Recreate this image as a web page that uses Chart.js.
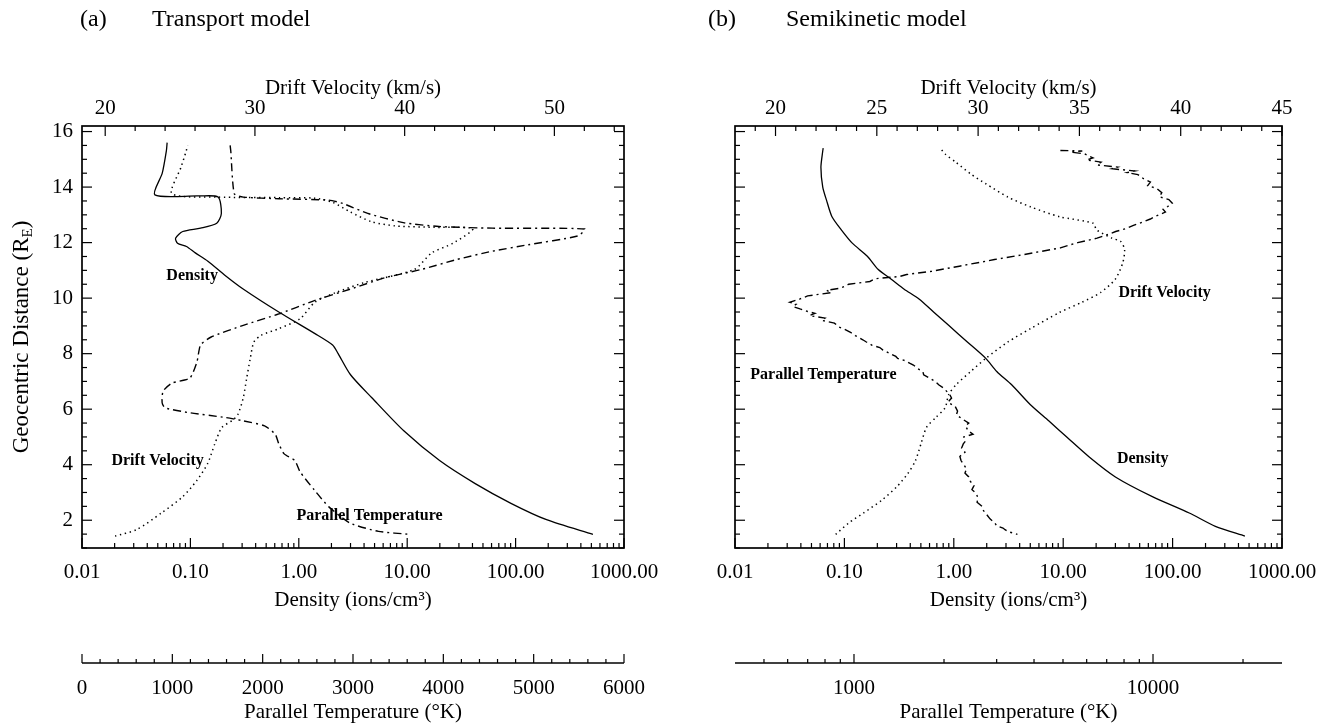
<!DOCTYPE html>
<html><head><meta charset="utf-8">
<script src="https://cdn.jsdelivr.net/npm/chart.js@4.4.1/dist/chart.umd.min.js"></script>
<style>
html,body{margin:0;padding:0;background:#fff;}
#wrap{position:relative;width:1332px;height:725px;overflow:hidden;background:#fff;}
canvas{position:absolute;top:0;}
.ttl{position:absolute;font-family:"Liberation Serif","Times New Roman",serif;font-size:24px;color:#000;white-space:nowrap;line-height:1;}
</style></head><body>
<div id="wrap">
<canvas id="ca" width="666" height="725" style="left:0px"></canvas>
<canvas id="cb" width="666" height="725" style="left:666px"></canvas>
<div class="ttl" style="left:80px;top:6px">(a)</div>
<div class="ttl" style="left:152px;top:6px">Transport model</div>
<div class="ttl" style="left:708px;top:6px">(b)</div>
<div class="ttl" style="left:786px;top:6px">Semikinetic model</div>
</div>
<script>
const FONT = '"Liberation Serif","Times New Roman",serif';

// ---------- tick labels ----------
const yTickLabels = [2, 4, 6, 8, 10, 12, 14, 16];
const densTickLabels = [0.01, 0.1, 1, 10, 100, 1000];
const aVelTickLabels = [20, 30, 40, 50];
const bVelTickLabels = [20, 25, 30, 35, 40, 45];
const aTempTickLabels = [0, 1000, 2000, 3000, 4000, 5000, 6000];
const bTempTickLabels = [1000, 10000];

// ---------- panel (a) Transport model ----------
const aDensDist = [15.6, 15.3, 14.5, 13.72, 13.68, 13.64, 13.05, 12.7, 12.52, 12.4, 12.16, 11.98, 11.86, 11.63, 11.33, 10.8, 10.32, 9.49, 8.72, 8.31, 8.01, 7.24, 6.41, 5.22, 4.15, 3.32, 2.61, 2.02, 1.49];
const aDensVal  = [0.061, 0.060, 0.055, 0.047, 0.12, 0.18, 0.193, 0.175, 0.124, 0.085, 0.073, 0.076, 0.092, 0.111, 0.145, 0.212, 0.309, 0.659, 1.41, 2.05, 2.30, 3.0, 4.72, 9.3, 19.9, 42.4, 90.6, 193, 517];

const aVelDist = [1.43, 1.66, 2.26, 2.85, 3.44, 4.04, 4.75, 5.34, 5.6, 5.81, 6.41, 7.12, 7.83, 8.42, 8.66, 8.9, 9.26, 9.85, 10.2, 10.56, 11.03, 11.63, 11.98, 12.5, 12.55, 12.6, 12.75, 13.11, 13.45, 13.6, 13.62, 13.64, 13.76, 14.71, 15.3, 15.5];
const aVelVal  = [20.66, 22.09, 23.75, 25.18, 26.13, 26.84, 27.32, 27.79, 28.5, 28.86, 29.22, 29.45, 29.69, 29.93, 30.41, 31.59, 33.02, 34.0, 35.4, 37.3, 40.63, 41.81, 43.24, 44.55, 42.0, 39.4, 37.8, 36.35, 35.2, 34.0, 31.6, 27.5, 24.46, 25.06, 25.41, 25.5];

const aTempDist = [15.5, 15.3, 13.76, 13.64, 13.58, 13.53, 13.41, 13.05, 12.72, 12.58, 12.52, 12.49, 12.24, 11.92, 11.69, 11.39, 11.03, 10.74, 10.32, 9.91, 9.43, 9.02, 8.60, 8.31, 7.71, 7.12, 6.94, 6.65, 6.23, 6.05, 5.87, 5.70, 5.58, 5.40, 5.10, 4.75, 4.39, 4.15, 3.74, 3.09, 2.49, 1.90, 1.60, 1.49];
const aTempVal  = [1640, 1647, 1686, 1785, 2179, 2730, 2888, 3163, 3557, 3951, 4542, 5566, 5488, 4936, 4542, 4148, 3754, 3360, 2966, 2572, 2179, 1785, 1430, 1312, 1273, 1194, 997, 898, 887, 918, 1194, 1588, 1785, 2021, 2139, 2179, 2238, 2356, 2415, 2572, 2730, 2966, 3281, 3636];

// ---------- panel (b) Semikinetic model ----------
const bDensDist = [15.4, 15.3, 14.71, 14.0, 13.53, 12.93, 12.46, 11.98, 11.51, 11.03, 10.68, 10.32, 9.97, 9.49, 9.02, 8.42, 7.83, 7.36, 6.88, 6.17, 5.58, 4.98, 4.27, 3.56, 2.85, 2.26, 1.78, 1.43];
const bDensVal  = [0.064, 0.0634, 0.061, 0.0634, 0.0686, 0.077, 0.0937, 0.118, 0.162, 0.204, 0.268, 0.352, 0.481, 0.657, 0.897, 1.33, 1.96, 2.47, 3.38, 4.99, 7.37, 10.9, 17.4, 30.0, 65.3, 142, 246, 458];

const bVelDist = [1.49, 1.90, 2.26, 2.73, 3.21, 3.68, 4.15, 4.75, 5.34, 5.70, 6.05, 6.53, 6.88, 7.36, 7.83, 8.42, 8.90, 9.49, 9.85, 10.20, 10.68, 11.27, 11.75, 12.04, 12.16, 12.46, 12.70, 12.93, 13.29, 13.64, 14.12, 14.47, 14.89, 15.19, 15.36];
const bVelVal  = [22.97, 23.61, 24.34, 25.26, 25.99, 26.53, 26.91, 27.18, 27.45, 27.91, 28.37, 28.55, 28.91, 29.64, 30.38, 31.47, 32.58, 34.03, 35.12, 36.04, 36.77, 37.14, 37.23, 37.04, 36.6, 35.85, 35.68, 34.03, 32.58, 31.47, 30.38, 29.64, 28.91, 28.37, 28.18];

const bTempDist = [15.32,15.30,15.26,15.20,15.05,14.98,14.90,14.80,14.72,14.66,14.58,14.52,14.45,14.30,14.18,14.05,13.95,13.80,13.65,13.55,13.42,13.30,13.20,13.10,12.95,12.85,12.75,12.62,12.50,12.40,12.30,12.16,12.00,11.81,11.57,11.39,11.15,10.97,10.85,10.78,10.70,10.60,10.50,10.44,10.36,10.28,10.20,10.08,9.97,9.85,9.78,9.70,9.61,9.52,9.45,9.37,9.28,9.20,9.10,8.96,8.88,8.78,8.65,8.50,8.42,8.30,8.22,8.13,8.00,7.90,7.83,7.75,7.65,7.59,7.45,7.35,7.24,7.10,7.00,6.88,6.75,6.62,6.53,6.40,6.25,6.10,5.93,5.80,5.65,5.50,5.40,5.22,5.10,5.00,4.85,4.75,4.60,4.45,4.30,4.15,4.00,3.85,3.70,3.56,3.40,3.25,3.10,2.97,2.80,2.65,2.50,2.37,2.20,2.05,1.90,1.80,1.72,1.66,1.58,1.52,1.49];
const bTempVal  = [4900,5800,5300,5900,6300,6000,6700,6500,7600,7300,8700,8200,8900,9300,9800,9600,10300,10700,10500,11300,11600,11200,10800,11000,10200,9800,9300,8600,8100,7500,7100,6500,5600,4900,3700,2950,2250,1820,1500,1420,1180,1130,960,940,900,810,840,700,660,610,640,625,660,700,740,710,800,780,860,890,930,970,1010,1070,1100,1150,1220,1250,1320,1380,1400,1480,1540,1580,1640,1700,1710,1800,1870,1920,2000,2050,2090,2120,2060,2180,2220,2200,2300,2420,2360,2410,2500,2330,2360,2320,2290,2350,2260,2280,2330,2380,2350,2420,2450,2520,2480,2560,2600,2580,2680,2700,2780,2850,2960,3000,3150,3200,3300,3450,3520];

// ---------- helpers ----------
function pts(xs, ys) { return xs.map((x, i) => ({ x: x, y: ys[i] })); }
function stepList(a, b, s, skip) {
  const out = [];
  for (let v = a; v <= b + 1e-9; v += s) {
    const r = Math.round(v * 1000) / 1000;
    if (!skip.some(m => Math.abs(m - r) < 1e-6)) out.push(r);
  }
  return out;
}
function logMinors(lo, hi) {
  const out = [];
  for (let e = -3; e <= 5; e++) for (let m = 2; m <= 9; m++) {
    const v = m * Math.pow(10, e);
    if (v > lo && v < hi) out.push(v);
  }
  return out;
}
const densMinor = logMinors(0.01, 1000);
const yMinor = stepList(1, 16, 0.5, yTickLabels);

function makePanel(id, P) {
  const f = (s) => ({ family: FONT, size: s, lineHeight: 1.2 });
  const noGrid = { display: false, drawTicks: false };
  const noBorder = { display: false };
  const setTicks = vals => (s => { s.ticks = vals.map(v => ({ value: v })); });

  const deco = {
    id: 'deco' + id,
    afterDatasetsDraw(chart) {
      const c = chart.ctx, a = chart.chartArea, S = chart.scales;
      c.save();
      c.strokeStyle = '#000';
      c.lineWidth = 1.7;
      c.strokeRect(a.left, a.top, a.right - a.left, a.bottom - a.top);
      c.lineWidth = 1.2;
      const ln = (x1, y1, x2, y2) => { c.beginPath(); c.moveTo(x1, y1); c.lineTo(x2, y2); c.stroke(); };
      yMinor.forEach(v => { const y = S.y.getPixelForValue(v); ln(a.left, y, a.left + 5, y); ln(a.right, y, a.right - 5, y); });
      yTickLabels.forEach(v => { const y = S.y.getPixelForValue(v); ln(a.left, y, a.left + 10, y); ln(a.right, y, a.right - 10, y); });
      densMinor.forEach(v => { const x = S.x.getPixelForValue(v); ln(x, a.bottom, x, a.bottom - 5); });
      densTickLabels.forEach(v => { const x = S.x.getPixelForValue(v); ln(x, a.bottom, x, a.bottom - 10); });
      P.velMinor.forEach(v => { const x = S.xv.getPixelForValue(v); ln(x, a.top, x, a.top + 5); });
      P.velTicks.forEach(v => { const x = S.xv.getPixelForValue(v); ln(x, a.top, x, a.top + 10); });
      const ty = S.xt.top;
      c.lineWidth = 1.7;
      ln(S.xt.left, ty, S.xt.right, ty);
      c.lineWidth = 1.2;
      P.tempMinor.forEach(v => { const x = S.xt.getPixelForValue(v); ln(x, ty, x, ty - 4); });
      P.tempTicks.forEach(v => { const x = S.xt.getPixelForValue(v); ln(x, ty, x, ty - 9); });
      c.fillStyle = '#000';
      c.font = 'bold 16px ' + FONT;
      c.textBaseline = 'middle';
      c.textAlign = 'left';
      P.labels.forEach(L => c.fillText(L.text, S.x.getPixelForValue(L.n), S.y.getPixelForValue(L.d)));
      if (P.yTitle) {
        c.translate(P.yTitleX, (a.top + a.bottom) / 2);
        c.rotate(-Math.PI / 2);
        const big = '23px ' + FONT, small = '15px ' + FONT;
        const t1 = 'Geocentric Distance (R', t2 = 'E', t3 = ')';
        c.font = big; const w1 = c.measureText(t1).width; const w3 = c.measureText(t3).width;
        c.font = small; const w2 = c.measureText(t2).width;
        const x0 = -(w1 + w2 + w3) / 2;
        c.font = big; c.fillText(t1, x0, 0);
        c.font = small; c.fillText(t2, x0 + w1, 6);
        c.font = big; c.fillText(t3, x0 + w1 + w2, 0);
      }
      c.restore();
    }
  };

  const line = (label, data, axis, dash, w, tension) => ({
    label: label, data: data, xAxisID: axis, yAxisID: 'y', showLine: true,
    borderColor: '#000', backgroundColor: '#000', borderWidth: w, borderDash: dash,
    pointRadius: 0, pointHoverRadius: 0, tension: tension, fill: false
  });

  return new Chart(document.getElementById(id), {
    type: 'scatter',
    data: {
      datasets: [
        line('Density', pts(P.densVal, P.densDist), 'x', [], 1.3, 0.25),
        line('Drift Velocity', pts(P.velVal, P.velDist), 'xv', [1.4, 3.6], 1.5, 0.25),
        line('Parallel Temperature', pts(P.tempVal, P.tempDist), 'xt', [8, 4, 2, 4], 1.4, P.tempTension)
      ]
    },
    options: {
      responsive: false, animation: false, events: [],
      plugins: { legend: { display: false }, tooltip: { enabled: false } },
      layout: { padding: { left: 0, right: P.padR, top: 0, bottom: 0 } },
      scales: {
        y: {
          type: 'linear', position: 'left', min: 1, max: 16.2,
          afterBuildTicks: setTicks(yTickLabels),
          afterFit: s => { s.width = P.yWidth; s.paddingTop = 0; s.paddingBottom = 0; },
          ticks: { display: P.yTitle, font: f(21), color: '#000', padding: 9 },
          grid: noGrid, border: noBorder
        },
        x: {
          type: 'logarithmic', position: 'bottom', weight: 0, min: 0.01, max: 1000,
          afterBuildTicks: setTicks(densTickLabels),
          afterFit: s => { s.height = 115; s.paddingLeft = 0; s.paddingRight = 0; },
          ticks: { font: f(21), color: '#000', padding: 12, autoSkip: false, maxRotation: 0, minRotation: 0,
                   callback: v => Number(v).toFixed(2) },
          title: { display: true, text: 'Density (ions/cm³)', font: f(21), color: '#000', padding: { top: 0, bottom: 50 } },
          grid: noGrid, border: noBorder
        },
        xt: {
          type: P.tempType, position: 'bottom', weight: 1, min: P.tempMin, max: P.tempMax,
          afterBuildTicks: setTicks(P.tempTicks),
          afterFit: s => { s.height = 62; s.paddingLeft = 0; s.paddingRight = 0; },
          ticks: { font: f(21), color: '#000', padding: 13, autoSkip: false, maxRotation: 0, minRotation: 0,
                   callback: v => String(v) },
          title: { display: true, text: 'Parallel Temperature (°K)', font: f(21), color: '#000', padding: { top: 0, bottom: 0 } },
          grid: noGrid, border: noBorder
        },
        xv: {
          type: 'linear', position: 'top', min: P.velMin, max: P.velMax,
          afterBuildTicks: setTicks(P.velTicks),
          afterFit: s => { s.height = 126; s.paddingLeft = 0; s.paddingRight = 0; },
          ticks: { font: f(21), color: '#000', padding: 5, autoSkip: false, maxRotation: 0, minRotation: 0,
                   callback: v => String(v) },
          title: { display: true, text: 'Drift Velocity (km/s)', font: f(21), color: '#000', padding: { top: 76, bottom: 0 } },
          grid: noGrid, border: noBorder
        }
      }
    },
    plugins: [deco]
  });
}

makePanel('ca', {
  densDist: aDensDist, densVal: aDensVal,
  velDist: aVelDist, velVal: aVelVal,
  tempDist: aTempDist, tempVal: aTempVal, tempTension: 0.2,
  yWidth: 82, padR: 42, yTitle: true, yTitleX: 22,
  velMin: 18.45, velMax: 54.65, velTicks: aVelTickLabels, velMinor: stepList(20, 54, 2, aVelTickLabels),
  tempType: 'linear', tempMin: 0, tempMax: 6000, tempTicks: aTempTickLabels, tempMinor: stepList(0, 6000, 200, aTempTickLabels),
  labels: [
    { text: 'Density', n: 0.06, d: 10.8 },
    { text: 'Drift Velocity', n: 0.0187, d: 4.15 },
    { text: 'Parallel Temperature', n: 0.95, d: 2.14 }
  ]
});

makePanel('cb', {
  densDist: bDensDist, densVal: bDensVal,
  velDist: bVelDist, velVal: bVelVal,
  tempDist: bTempDist, tempVal: bTempVal, tempTension: 0,
  yWidth: 69, padR: 50, yTitle: false, yTitleX: 0,
  velMin: 18, velMax: 45, velTicks: bVelTickLabels, velMinor: stepList(19, 44, 1, bVelTickLabels),
  tempType: 'logarithmic', tempMin: 400, tempMax: 27000, tempTicks: bTempTickLabels, tempMinor: logMinors(400, 27000),
  labels: [
    { text: 'Drift Velocity', n: 32, d: 10.2 },
    { text: 'Density', n: 31, d: 4.21 },
    { text: 'Parallel Temperature', n: 0.0138, d: 7.24 }
  ]
});
</script>
</body></html>
